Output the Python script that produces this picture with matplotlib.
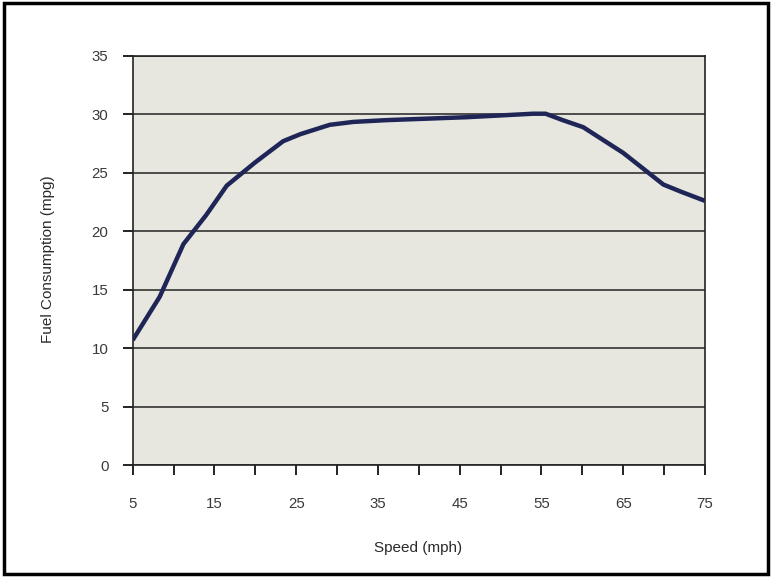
import matplotlib
matplotlib.use('Agg')
import matplotlib.pyplot as plt
from matplotlib.patches import Rectangle

# values (speed in mph, fuel economy in mpg)
speed = [5, 8.3, 11.2, 14, 16.5, 20, 23.4, 25.5, 29.1, 32, 36, 45.8,
         54, 55.5, 57.6, 60.1, 65, 69.9, 72, 75]
mpg = [10.7, 14.4, 18.9, 21.4, 23.9, 25.9, 27.7, 28.3, 29.1, 29.35,
       29.5, 29.75, 30.05, 30.05, 29.5, 28.9, 26.7, 24.0, 23.4, 22.6]

x_major = [5, 15, 25, 35, 45, 55, 65, 75]
x_minor = [10, 20, 30, 40, 50, 60, 70]
y_ticks = [0, 5, 10, 15, 20, 25, 30, 35]

plt.rcParams['font.family'] = ['Liberation Sans', 'DejaVu Sans']

fig = plt.figure(figsize=(7.72, 5.77), dpi=100)
ax = fig.add_axes([0.1719, 0.1936, 0.7413, 0.7097])
ax.set_facecolor('#e7e7df')

ax.plot(speed, mpg, color='#1f2657', lw=3.2, solid_capstyle='butt',
        solid_joinstyle='round', zorder=3)

ax.set_xlim(5, 75)
ax.set_ylim(0, 35)
ax.set_xticks(x_major)
ax.set_xticks(x_minor, minor=True)
ax.set_yticks(y_ticks)

ax.grid(axis='y', color='#222222', lw=1.1)
ax.set_axisbelow(True)
for s in ax.spines.values():
    s.set_color('#222222')
    s.set_linewidth(1.2)

ax.tick_params(axis='both', which='both', direction='out', length=7,
               width=1.4, color='#222222', labelsize=10.8,
               labelcolor='#3a3a3a')
ax.tick_params(axis='y', pad=10.5)
ax.tick_params(axis='x', which='both', pad=16)

ax.set_xlabel('Speed (mph)', fontsize=11, color='#2a2a2a')
ax.set_ylabel('Fuel Consumption (mpg)', fontsize=11, color='#2a2a2a')
ax.xaxis.set_label_coords(418 / 772, 1 - 548 / 577,
                          transform=fig.transFigure)
ax.yaxis.set_label_coords(48 / 772, 1 - 259 / 577,
                          transform=fig.transFigure)
ax.xaxis.label.set_va('center')
ax.yaxis.label.set_va('center')

# outer frame round the whole chart
fig.patches.append(Rectangle((0.005, 0.005), 0.99, 0.99,
                             transform=fig.transFigure, fill=False,
                             edgecolor='black', lw=2.5))

fig.savefig('out.png', dpi=100)
